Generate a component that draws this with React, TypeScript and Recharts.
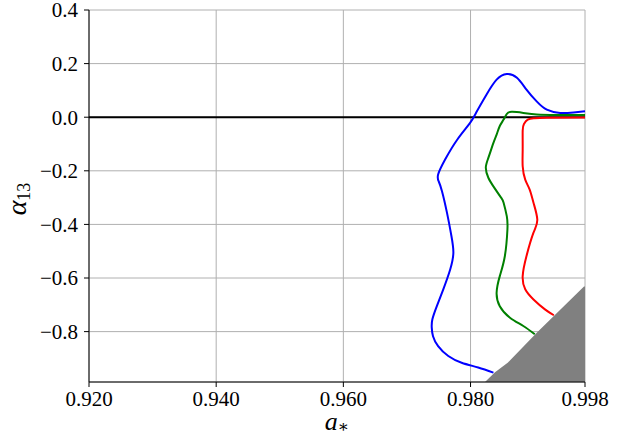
import React from "react";
import {
  ComposedChart,
  Line,
  Area,
  XAxis,
  YAxis,
  CartesianGrid,
  ReferenceLine,
} from "recharts";

type P = { x: number; y: number };
const pts = (a: number[][]): P[] => a.map(([x, y]) => ({ x, y }));

const xTicks = [0.92, 0.94, 0.96, 0.98, 0.998];
const yTicks = [0.4, 0.2, 0, -0.2, -0.4, -0.6, -0.8];
const xDomain = [0.92, 0.998];
const yDomain = [-0.988, 0.4];

const blueCurve = pts([
  [0.998, 0.022], [0.9962, 0.018], [0.9941, 0.016], [0.992, 0.028], [0.9904, 0.059],
  [0.9888, 0.103], [0.9873, 0.147], [0.9857, 0.161], [0.9841, 0.14], [0.9825, 0.084],
  [0.981, 0.022], [0.9799, -0.022], [0.9779, -0.084], [0.976, -0.158], [0.9749, -0.214],
  [0.975, -0.24], [0.9755, -0.275], [0.9763, -0.357], [0.977, -0.444], [0.9773, -0.506],
  [0.9768, -0.568], [0.9757, -0.643], [0.9747, -0.705], [0.974, -0.754], [0.9739, -0.785],
  [0.9741, -0.817], [0.9749, -0.854], [0.9765, -0.891], [0.9786, -0.916], [0.9812, -0.934],
  [0.9836, -0.953],
]);

const greenCurve = pts([
  [0.998, 0.008], [0.9936, 0.008], [0.9904, 0.01], [0.9883, 0.016], [0.9865, 0.02],
  [0.9857, 0.012], [0.9852, -0.009], [0.9846, -0.033], [0.9841, -0.065], [0.9836, -0.096],
  [0.9828, -0.152], [0.9824, -0.189], [0.9828, -0.226], [0.9837, -0.262], [0.9848, -0.3],
  [0.9852, -0.319], [0.9857, -0.369], [0.9858, -0.419], [0.9854, -0.518], [0.9846, -0.593],
  [0.9841, -0.655], [0.9846, -0.705], [0.9862, -0.748], [0.9883, -0.779], [0.9901, -0.81],
]);

const redCurve = pts([
  [0.998, -0.001], [0.992, -0.002], [0.99, -0.004], [0.989, -0.009], [0.9884, -0.025],
  [0.9882, -0.05], [0.9882, -0.121], [0.9882, -0.183], [0.9886, -0.233], [0.9893, -0.27],
  [0.9899, -0.319], [0.9905, -0.382], [0.9899, -0.431], [0.9888, -0.518], [0.9882, -0.593],
  [0.9886, -0.642], [0.9899, -0.68], [0.9917, -0.717], [0.9931, -0.739],
]);

const greyRegion = pts([
  [0.98227, -0.988], [0.98385, -0.952], [0.98589, -0.915], [0.99045, -0.803],
  [0.99784, -0.632], [0.998, -0.632],
]);

const FONT = "'Liberation Serif', 'DejaVu Serif', serif";
const tickStyle = { fill: "#000", fontSize: 21, fontFamily: FONT };

const fmtX = (v: number) => v.toFixed(3);
const fmtY = (v: number) =>
  Math.abs(v) < 1e-9 ? "0.0" : v < 0 ? "\u2212" + Math.abs(v).toFixed(1) : v.toFixed(1);

const XLabel = (props: any) => {
  const vb = props.viewBox || { x: 89, y: 382, width: 496 };
  const cx = vb.x + vb.width / 2;
  return (
    <text x={cx} y={vb.y + 47.5} textAnchor="middle" fontFamily={FONT} fill="#000">
      <tspan fontStyle="italic" fontSize={26}>a</tspan>
      <tspan fontSize={17} dy={2}>{"\u2217"}</tspan>
    </text>
  );
};

const YLabel = (props: any) => {
  const vb = props.viewBox || { x: 0, y: 10, height: 372 };
  const cy = vb.y + vb.height / 2 + 3;
  return (
    <text
      transform={`translate(26, ${cy}) rotate(-90)`}
      x={0}
      y={0}
      textAnchor="middle"
      fontFamily={FONT}
      fill="#000"
    >
      <tspan fontStyle="italic" fontSize={28}>{"\u03b1"}</tspan>
      <tspan fontSize={18} dy={4}>13</tspan>
    </text>
  );
};

export default function App() {
  return (
    <div style={{ position: "absolute", left: 0, top: 0, background: "#fff" }}>
      <ComposedChart
        width={619}
        height={437}
        margin={{ top: 10, right: 34, bottom: 0, left: 0 }}
      >
        <CartesianGrid stroke="#b0b0b0" strokeWidth={1} />
        <XAxis
          type="number"
          dataKey="x"
          domain={xDomain}
          ticks={xTicks}
          interval={0}
          allowDataOverflow
          tickFormatter={fmtX}
          tick={tickStyle}
          tickSize={5}
          tickMargin={4}
          height={55}
          stroke="#000"
          axisLine={{ stroke: "#000", strokeWidth: 1 }}
          tickLine={{ stroke: "#000", strokeWidth: 1 }}
          label={XLabel}
        />
        <XAxis
          xAxisId="top"
          orientation="top"
          type="number"
          domain={xDomain}
          allowDataOverflow
          height={0}
          tick={false}
          tickLine={false}
          axisLine={{ stroke: "#000", strokeWidth: 1 }}
        />
        <YAxis
          type="number"
          domain={yDomain}
          ticks={yTicks}
          interval={0}
          allowDataOverflow
          tickFormatter={fmtY}
          tick={tickStyle}
          tickSize={5}
          tickMargin={6}
          width={89}
          axisLine={{ stroke: "#000", strokeWidth: 1 }}
          tickLine={{ stroke: "#000", strokeWidth: 1 }}
          label={YLabel}
        />
        <YAxis
          yAxisId="right"
          orientation="right"
          type="number"
          domain={yDomain}
          allowDataOverflow
          width={0}
          tick={false}
          tickLine={false}
          axisLine={{ stroke: "#000", strokeWidth: 1 }}
        />
        <ReferenceLine y={0} stroke="#000" strokeWidth={2} />
        <Line
          data={blueCurve}
          dataKey="y"
          type="natural"
          stroke="#0000ff"
          strokeWidth={2}
          dot={false}
          activeDot={false}
          isAnimationActive={false}
        />
        <Line
          data={greenCurve}
          dataKey="y"
          type="natural"
          stroke="#008000"
          strokeWidth={2}
          dot={false}
          activeDot={false}
          isAnimationActive={false}
        />
        <Line
          data={redCurve}
          dataKey="y"
          type="natural"
          stroke="#ff0000"
          strokeWidth={2}
          dot={false}
          activeDot={false}
          isAnimationActive={false}
        />
        <Area
          data={greyRegion}
          dataKey="y"
          type="linear"
          baseValue={-0.988}
          fill="#808080"
          fillOpacity={1}
          stroke="none"
          isAnimationActive={false}
        />
      </ComposedChart>
    </div>
  );
}
